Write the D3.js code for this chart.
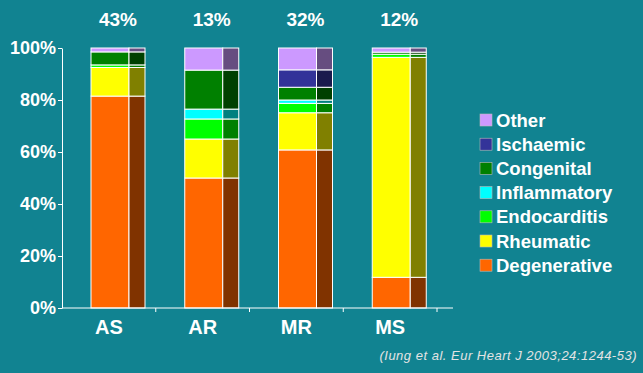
<!DOCTYPE html>
<html lang="en">
<head>
    <meta charset="UTF-8">
    <title>Valve disease causes</title>
    <style>
        body { margin: 0; background: #118391; }
        svg { display: block; font-family: "Liberation Sans", Arial, sans-serif; }
    </style>
</head>
<body>
    <div id="chart"></div>
    <script src="https://d3js.org/d3.v7.min.js"></script>
    <script>
        const w = 643;
        const h = 373;

        // data (percent of each lesion)
        const categories = ['AS', 'AR', 'MR', 'MS'];
        const shares = ['43%', '13%', '32%', '12%'];
        const causes = ['Degenerative', 'Rheumatic', 'Endocarditis', 'Inflammatory', 'Congenital', 'Ischaemic', 'Other'];
        const degenerative = [81.5, 50, 60.8, 11.8];
        const rheumatic = [11, 15, 14.3, 84.6];
        const endocarditis = [1, 7.7, 3.6, 1.2];
        const inflammatory = [0, 3.8, 1.3, 0];
        const congenital = [5, 15, 4.9, 0.8];
        const ischaemic = [0, 0, 6.7, 0];
        const other = [1.5, 8.5, 8.4, 1.6];
        const yTicks = [0, 20, 40, 60, 80, 100];

        const colors = ['#ff6600', '#ffff00', '#00ff00', '#00ffff', '#008000', '#333399', '#cc99ff'];

        const series = [degenerative, rheumatic, endocarditis, inflammatory, congenital, ischaemic, other];
        const table = categories.map((c, i) => {
            const row = { cat: c };
            causes.forEach((k, j) => row[k] = series[j][i]);
            return row;
        });

        const xScale = d3.scaleBand().domain(categories).range([62, 437]);
        const yScale = d3.scaleLinear().domain([0, 100]).range([308, 48]);
        const color = d3.scaleOrdinal().domain(causes).range(colors);

        const frontW = 38, sideW = 16, offset = 29;

        // side face = front colour at half brightness
        const shade = c => {
            const r = d3.rgb(c);
            return d3.rgb(r.r * 0.5, r.g * 0.5, r.b * 0.5);
        };

        const svg = d3.select('#chart').append('svg')
            .attr('width', w)
            .attr('height', h);

        svg.append('rect').attr('width', w).attr('height', h).attr('fill', '#118391');

        const stacked = d3.stack().keys(causes)(table);

        const layer = svg.selectAll('g.layer')
            .data(stacked)
            .enter()
            .append('g')
            .attr('class', 'layer');

        const segs = layer.selectAll('g.seg')
            .data(d => d.map(s => ({ key: d.key, s })).filter(o => o.s[1] - o.s[0] > 0))
            .enter()
            .append('g');

        // front face
        segs.append('rect')
            .attr('x', d => xScale(d.s.data.cat) + offset)
            .attr('y', d => yScale(d.s[1]))
            .attr('width', frontW)
            .attr('height', d => yScale(d.s[0]) - yScale(d.s[1]))
            .attr('fill', d => color(d.key))
            .attr('stroke', '#fff')
            .attr('stroke-width', 1);

        // darker side face
        segs.append('rect')
            .attr('x', d => xScale(d.s.data.cat) + offset + frontW)
            .attr('y', d => yScale(d.s[1]))
            .attr('width', sideW)
            .attr('height', d => yScale(d.s[0]) - yScale(d.s[1]))
            .attr('fill', d => shade(color(d.key)))
            .attr('stroke', '#fff')
            .attr('stroke-width', 1);

        // y axis
        const yAxis = d3.axisLeft(yScale)
            .tickValues(yTicks)
            .tickFormat(d => d + '%')
            .tickSize(4)
            .tickSizeOuter(0)
            .tickPadding(2);
        const gy = svg.append('g')
            .attr('transform', 'translate(62,0)')
            .call(yAxis);
        gy.selectAll('path, line').attr('stroke', '#fff');
        gy.selectAll('text')
            .attr('fill', '#fff')
            .attr('font-size', 18)
            .attr('font-weight', 'bold')
            .attr('font-family', '"Liberation Sans", Arial, sans-serif');

        // x axis
        const xAxis = d3.axisBottom(xScale).tickSize(0).tickSizeOuter(0).tickPadding(12);
        const gx = svg.append('g')
            .attr('transform', 'translate(0,308)')
            .call(xAxis);
        gx.select('path').remove();
        gx.selectAll('text')
            .attr('fill', '#fff')
            .attr('font-size', 20)
            .attr('font-weight', 'bold')
            .attr('font-family', '"Liberation Sans", Arial, sans-serif');
        gx.append('line')
            .attr('x1', 62).attr('x2', 453)
            .attr('y1', 0).attr('y2', 0)
            .attr('stroke', '#fff');
        gx.selectAll('line.sep')
            .data(categories)
            .enter()
            .append('line')
            .attr('class', 'sep')
            .attr('x1', d => xScale(d) + xScale.bandwidth())
            .attr('x2', d => xScale(d) + xScale.bandwidth())
            .attr('y1', 0).attr('y2', 4)
            .attr('stroke', '#fff');

        // share labels on top
        svg.selectAll('text.share')
            .data(categories)
            .enter()
            .append('text')
            .attr('class', 'share')
            .attr('x', d => xScale(d) + offset + (frontW + sideW) / 2)
            .attr('y', 26)
            .attr('text-anchor', 'middle')
            .attr('fill', '#fff')
            .attr('font-size', 19)
            .attr('font-weight', 'bold')
            .text((d, i) => shares[i]);

        // legend
        const legend = svg.append('g').attr('transform', 'translate(480,114)');
        const items = legend.selectAll('g')
            .data(causes.slice().reverse())
            .enter()
            .append('g')
            .attr('transform', (d, i) => `translate(0,${i * 24.2})`);
        items.append('rect')
            .attr('width', 12).attr('height', 12)
            .attr('fill', d => color(d))
            .attr('stroke', '#bbb')
            .attr('stroke-width', 0.6);
        items.append('text')
            .attr('x', 16)
            .attr('y', 12.5)
            .attr('fill', '#fff')
            .attr('font-size', 18.5)
            .attr('font-weight', 'bold')
            .text(d => d);

        // source note
        svg.append('text')
            .attr('x', 637)
            .attr('y', 360)
            .attr('text-anchor', 'end')
            .attr('fill', '#e4e4e4')
            .attr('font-size', 13)
            .attr('font-style', 'italic')
            .attr('letter-spacing', 0.5)
            .text('(Iung et al. Eur Heart J 2003;24:1244-53)');
    </script>
</body>
</html>
